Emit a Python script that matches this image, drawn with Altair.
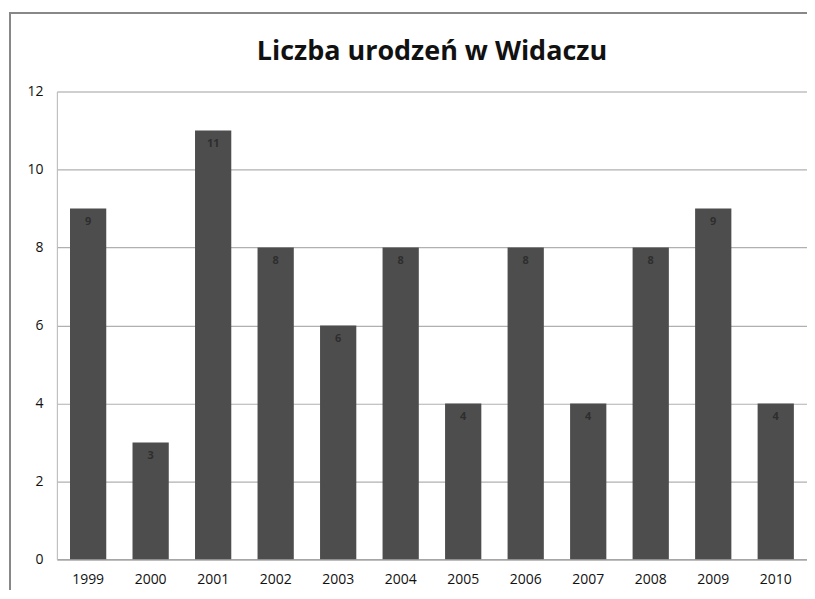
import altair as alt
import pandas as pd

years = ["1999", "2000", "2001", "2002", "2003", "2004", "2005", "2006", "2007", "2008", "2009", "2010"]
births = [9, 3, 11, 8, 6, 8, 4, 8, 4, 8, 9, 4]
y_ticks = [0, 2, 4, 6, 8, 10, 12]
chart_title = "Liczba urodzeń w Widaczu"

df = pd.DataFrame({"rok": years, "liczba": births})
FONT = "Open Sans"

base = alt.Chart(df)

bars = base.mark_bar(color="#4d4d4d").encode(
    x=alt.X("rok:N", sort=years, title=None,
            scale=alt.Scale(paddingInner=0.42, paddingOuter=0.21),
            axis=alt.Axis(labelAngle=0, labelFontSize=14, labelColor="#111", labelPadding=13,
                          domainColor="#999", ticks=False, labelFont=FONT)),
    y=alt.Y("liczba:Q", title=None,
            scale=alt.Scale(domain=[0, 12]),
            axis=alt.Axis(values=y_ticks, labelFontSize=14, labelColor="#111", labelPadding=14,
                          gridColor="#b0b0b0", gridWidth=1.2, domainColor="#bbb",
                          ticks=False, labelFont=FONT)),
)

labels = base.mark_text(baseline="top", dy=8, fontSize=11, color="#2e2e2e", font=FONT,
                        fontWeight="bold").encode(
    x=alt.X("rok:N", sort=years),
    y=alt.Y("liczba:Q"),
    text=alt.Text("liczba:Q"),
)

title_mark = alt.Chart(pd.DataFrame({"t": [chart_title]})).mark_text(
    fontSize=27, fontWeight="bold", font=FONT, color="#111", clip=False,
    align="center", baseline="alphabetic").encode(
    x=alt.value(376), y=alt.value(-32), text="t:N")

frame_left = base.mark_rule(color="#888", strokeWidth=1.5, clip=False).encode(
    x=alt.value(-47), y=alt.value(-79), y2=alt.value(510))
frame_top = base.mark_rule(color="#888", strokeWidth=1.5, clip=False).encode(
    x=alt.value(-47), x2=alt.value(752), y=alt.value(-79))

chart = alt.layer(frame_left, frame_top, bars, labels, title_mark).properties(
    width=752, height=469,
    autosize=alt.AutoSizeParams(type="none"),
    padding={"left": 49, "top": 83, "right": 0, "bottom": 30},
).configure_view(stroke=None).configure(background="white")

chart.save("out.html", embed_options={"renderer": "svg", "actions": False})
